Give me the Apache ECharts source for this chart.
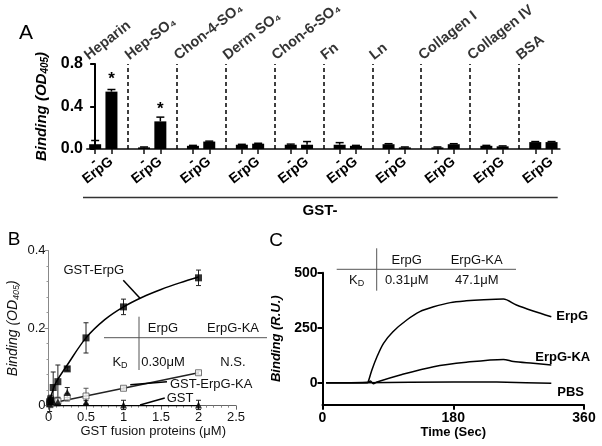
<!DOCTYPE html>
<html><head><meta charset="utf-8">
<script src="https://cdn.jsdelivr.net/npm/echarts@6/dist/echarts.min.js"></script>
<style>html,body{margin:0;padding:0;background:#fff}#c{width:602px;height:446px}</style>
</head><body><div id="c"></div>
<script>
// ---------- Panel A data ----------
const groups = ['Heparin','Hep-SO₄','Chon-4-SO₄','Derm SO₄','Chon-6-SO₄','Fn','Ln','Collagen I','Collagen IV','BSA'];
const barLabels = ['-','ErpG'];
const negValues  = [0.045,0.015,0.03,0.04,0.04,0.04,0.045,0.015,0.03,0.065];
const negErr     = [0.035,0.004,0.004,0.004,0.006,0.02,0.005,0.004,0.004,0.005];
const erpgValues = [0.54,0.26,0.07,0.05,0.04,0.03,0.015,0.045,0.025,0.065];
const erpgErr    = [0.02,0.04,0.004,0.004,0.03,0.004,0.004,0.005,0.004,0.005];
const erpgStars  = ['*','*','','','','','','','',''];

// ---------- Panel B data ----------
const bConc      = [0.015,0.03,0.0625,0.125,0.25,0.5,1,2];
const bErpG      = [0.01,0.015,0.047,0.062,0.095,0.175,0.255,0.33];
const bErpGErr   = [0.01,0.012,0.04,0.043,0.005,0.039,0.02,0.02];
const bKA        = [0.005,0.005,0.01,0.012,0.022,0.025,0.045,0.085];
const bKAErr     = [0.005,0.01,0.01,0.01,0.01,0.02,0.004,0.004];
const bGST       = [0.005,0.01,0.01,0.01,0.034,0.008,0.002,0.002];
const bGSTErr    = [0.02,0.01,0.005,0.01,0.013,0.005,0.012,0.012];
const bFitErpGX  = [0,0.05,0.1,0.25,0.5,0.75,1,1.25,1.5,1.75,2];
const bFitErpGY  = [0,0.035,0.06,0.105,0.175,0.222,0.255,0.28,0.3,0.317,0.332];
const bFitKAX    = [0,2];
const bFitKAY    = [0.005,0.085];
const bFitGSTX   = [0,2];
const bFitGSTY   = [0,0];

// ---------- Panel C data ----------
const cErpGT = [5,30,62,63,68,75,84,97,116,134,153,176,198,222,249,267,290,315];
const cErpGV = [0,0,2,5,58,118,179,232,285,323,345,364,372,377,380,353,326,300];
const cKAT   = [5,62,66,70,75,107,153,198,249,263,290,315];
const cKAV   = [0,0,8,-5,3,35,73,93,106,96,88,80];
const cPBST  = [5,60,120,180,240,280,315];
const cPBSV  = [0,0,2,3,3,0,-3];
const cYTicks = [0,250,500];

const FONT = 'Liberation Sans, Arial, sans-serif';

// Build panel A categories: bars and divider slots
const cats = [], catText = {}, barData = [], errA = [], starOf = {}, dividers = [], groupAnchors = [];
groups.forEach((g, gi) => {
  groupAnchors.push([gi === 0 ? -0.5 : cats.length - 1, 0.8, g]);
  [[negValues, negErr, ''], [erpgValues, erpgErr, erpgStars[gi]]].forEach((arr, bi) => {
    const id = 'g' + gi + 'b' + bi;
    catText[id] = barLabels[bi];
    errA.push([cats.length, arr[0][gi], arr[1][gi]]);
    starOf[cats.length] = arr[2];
    barData.push(arr[0][gi]);
    cats.push(id);
  });
  if (gi < groups.length - 1) {
    const id = 'd' + gi;
    catText[id] = '';
    dividers.push(id);
    barData.push('-');
    cats.push(id);
  }
});

function errRender(capW, color, lw, upOnly) {
  return function (params, api) {
    const x = api.value(0), y = api.value(1), e = api.value(2);
    const top = api.coord([x, y + e]);
    const bot = api.coord([x, upOnly ? y : y - e]);
    const hw = capW / 2, st = { stroke: color, lineWidth: lw };
    const ch = [
      { type: 'line', shape: { x1: top[0], y1: top[1], x2: bot[0], y2: bot[1] }, style: st },
      { type: 'line', shape: { x1: top[0] - hw, y1: top[1], x2: top[0] + hw, y2: top[1] }, style: st }
    ];
    if (!upOnly) ch.push({ type: 'line', shape: { x1: bot[0] - hw, y1: bot[1], x2: bot[0] + hw, y2: bot[1] }, style: st });
    return { type: 'group', children: ch };
  };
}
const zip = (a, b) => a.map((v, i) => [v, b[i]]);
const zip3 = (a, b, c) => a.map((v, i) => [v, b[i], c[i]]);

const chart = echarts.init(document.getElementById('c'), null, { renderer: 'canvas' });

const option = {
  backgroundColor: '#fff',
  animation: false,
  textStyle: { fontFamily: FONT },
  grid: [
    { left: 87, top: 64, width: 472.7, height: 85, outerBoundsMode: 'none' },
    { left: 48.5, top: 250.7, width: 187.5, height: 155, outerBoundsMode: 'none' },
    { left: 322.5, top: 272.7, width: 261.5, height: 132, outerBoundsMode: 'none' }
  ],
  xAxis: [
    {
      gridIndex: 0, type: 'category', data: cats, boundaryGap: true,
      axisLine: { lineStyle: { color: '#444', width: 2 } },
      axisTick: { show: true, alignWithLabel: true, length: 5, lineStyle: { color: '#111', width: 1.5 },
        interval: (i) => catText[cats[i]] !== '' },
      axisLabel: { interval: 0, rotate: 38, margin: 11, color: '#000', fontSize: 14, fontWeight: 'bold', fontFamily: FONT,
        formatter: (v) => catText[v] },
      splitLine: { show: false }
    },
    {
      gridIndex: 1, type: 'value', min: 0, max: 2.5, interval: 0.5,
      axisLine: { show: true, onZero: false, lineStyle: { color: '#666', width: 1 } },
      axisTick: { show: true, length: 4, lineStyle: { color: '#666' } },
      minorTick: { show: true, splitNumber: 5, length: 2, lineStyle: { color: '#888' } },
      axisLabel: { color: '#111', fontSize: 13, margin: 5, fontFamily: FONT },
      splitLine: { show: false },
      name: 'GST fusion proteins (μM)', nameLocation: 'middle', nameGap: 18,
      nameTextStyle: { color: '#111', fontSize: 13, fontFamily: FONT, padding: [0, 0, 0, 22] }
    },
    {
      gridIndex: 2, type: 'value', min: 0, max: 360, interval: 180,
      axisLine: { show: true, onZero: false, lineStyle: { color: '#000', width: 2 } },
      axisTick: { show: true, length: 5, lineStyle: { color: '#000', width: 2 } },
      axisLabel: { color: '#000', fontSize: 14, fontWeight: 'bold', margin: 6, fontFamily: FONT },
      splitLine: { show: false },
      name: 'Time (Sec)', nameLocation: 'middle', nameGap: 19,
      nameTextStyle: { color: '#000', fontSize: 13, fontWeight: 'bold', fontFamily: FONT }
    },
    {
      gridIndex: 0, type: 'value', min: -0.5, max: cats.length - 0.5, show: false
    }
  ],
  yAxis: [
    {
      gridIndex: 0, type: 'value', min: 0, max: 0.8, interval: 0.4,
      axisLine: { show: true, lineStyle: { color: '#000', width: 2 } },
      axisTick: { show: true, length: 5, lineStyle: { color: '#000', width: 2 } },
      axisLabel: { color: '#000', fontSize: 16, fontWeight: 'bold', margin: 4, fontFamily: FONT,
        formatter: (v) => v.toFixed(1) },
      splitLine: { show: false },
      name: 'Binding (OD{s|405})', nameLocation: 'middle', nameGap: 29, nameRotate: 90,
      nameTextStyle: { color: '#000', fontSize: 15, fontWeight: 'bold', fontStyle: 'italic', fontFamily: FONT,
        rich: { s: { fontSize: 10, fontWeight: 'bold', fontStyle: 'italic', verticalAlign: 'bottom', fontFamily: FONT, padding: [6, 0, 0, 0] } } }
    },
    {
      gridIndex: 1, type: 'value', min: 0, max: 0.4, interval: 0.2,
      axisLine: { show: true, onZero: false, lineStyle: { color: '#888', width: 1 } },
      axisTick: { show: true, length: 4, lineStyle: { color: '#888' } },
      minorTick: { show: true, splitNumber: 5, length: 2, lineStyle: { color: '#999' } },
      axisLabel: { color: '#111', fontSize: 13, margin: 3, fontFamily: FONT },
      splitLine: { show: false },
      name: 'Binding (OD{s|405})', nameLocation: 'middle', nameGap: 28, nameRotate: 90,
      nameTextStyle: { color: '#111', fontSize: 14, fontStyle: 'italic', fontFamily: FONT,
        rich: { s: { fontSize: 9, fontStyle: 'italic', verticalAlign: 'bottom', fontFamily: FONT, padding: [6, 0, 0, 0] } } }
    },
    {
      gridIndex: 2, type: 'value', min: -100, max: 500,
      axisLine: { show: true, onZero: false, lineStyle: { color: '#000', width: 2 } },
      axisTick: { show: true, length: 5, customValues: cYTicks, lineStyle: { color: '#000', width: 2 } },
      axisLabel: { color: '#000', fontSize: 14, fontWeight: 'bold', margin: 5, customValues: cYTicks, fontFamily: FONT },
      splitLine: { show: false },
      name: 'Binding (R.U.)', nameLocation: 'middle', nameGap: 40, nameRotate: 90,
      nameTextStyle: { color: '#000', fontSize: 13, fontWeight: 'bold', fontStyle: 'italic', fontFamily: FONT }
    }
  ],
  series: [
    // ---- Panel A ----
    {
      type: 'bar', xAxisIndex: 0, yAxisIndex: 0, data: barData, barWidth: 12,
      itemStyle: { color: '#000' },
      label: { show: true, position: 'top', distance: 4, color: '#000', fontSize: 17, fontWeight: 'bold', fontFamily: FONT,
        formatter: (p) => starOf[p.dataIndex] || '' },
      markLine: {
        silent: true, symbol: ['none', 'none'], label: { show: false },
        lineStyle: { color: '#000', type: [4, 3], width: 1.5 },
        emphasis: { disabled: true },
        data: dividers.map((d) => ({ xAxis: d }))
      }
    },
    {
      type: 'custom', xAxisIndex: 0, yAxisIndex: 0, data: errA, clip: false,
      renderItem: errRender(8, '#000', 1.5, true), z: 3
    },
    {
      type: 'scatter', xAxisIndex: 3, yAxisIndex: 0, data: groupAnchors, symbolSize: 0, silent: true,
      label: { show: true, position: [4, -1], align: 'left', verticalAlign: 'bottom', rotate: 38,
        color: '#000', fontSize: 14.5, fontWeight: 'bold', fontFamily: FONT, formatter: (p) => p.value[2] }
    },
    // ---- Panel B ----
    {
      name: 'GST-ErpG fit', type: 'line', xAxisIndex: 1, yAxisIndex: 1, data: zip(bFitErpGX, bFitErpGY),
      smooth: 0.35, showSymbol: false, lineStyle: { color: '#000', width: 1.5 },
      markLine: {
        silent: true, symbol: ['none', 'none'], label: { show: false }, lineStyle: { color: '#000', width: 1.5, type: 'solid' },
        data: [
          [{ coord: [0.997, 0.324] }, { coord: [1.22, 0.277] }],
          [{ coord: [1.09, 0.054] }, { coord: [1.58, 0.062] }],
          [{ coord: [1.22, 0.002] }, { coord: [1.55, 0.02] }]
        ]
      },
      markPoint: {
        silent: true, symbol: 'circle', symbolSize: 0,
        label: { show: true, position: 'right', distance: 0, color: '#111', fontSize: 13, fontFamily: FONT, formatter: (p) => p.name },
        data: [
          { name: 'GST-ErpG', coord: [0.2, 0.348] },
          { name: 'GST-ErpG-KA', coord: [1.62, 0.054] },
          { name: 'GST', coord: [1.575, 0.02] }
        ]
      }
    },
    {
      type: 'line', xAxisIndex: 1, yAxisIndex: 1, data: zip(bFitKAX, bFitKAY),
      showSymbol: false, lineStyle: { color: '#222', width: 1.5 }
    },
    {
      type: 'line', xAxisIndex: 1, yAxisIndex: 1, data: zip(bFitGSTX, bFitGSTY),
      showSymbol: false, lineStyle: { color: '#000', width: 1.5 }
    },
    { type: 'custom', xAxisIndex: 1, yAxisIndex: 1, data: zip3(bConc, bErpG, bErpGErr), clip: false, renderItem: errRender(5, '#222', 1, false) },
    { type: 'custom', xAxisIndex: 1, yAxisIndex: 1, data: zip3(bConc, bKA, bKAErr), clip: false, renderItem: errRender(5, '#555', 1, false) },
    { type: 'custom', xAxisIndex: 1, yAxisIndex: 1, data: zip3(bConc, bGST, bGSTErr), clip: false, renderItem: errRender(5, '#222', 1, false) },
    {
      type: 'scatter', xAxisIndex: 1, yAxisIndex: 1, data: zip(bConc, bKA), symbol: 'rect', symbolSize: 6,
      itemStyle: { color: '#fff', borderColor: '#555', borderWidth: 1 }, z: 4
    },
    {
      type: 'scatter', xAxisIndex: 1, yAxisIndex: 1, data: zip(bConc, bGST), symbol: 'triangle', symbolSize: 7,
      itemStyle: { color: '#000' }, z: 4
    },
    {
      type: 'scatter', xAxisIndex: 1, yAxisIndex: 1, data: zip(bConc, bErpG), symbol: 'rect', symbolSize: 7,
      itemStyle: { color: '#000' }, z: 5
    },
    // ---- Panel C ----
    {
      name: 'PBS', type: 'line', xAxisIndex: 2, yAxisIndex: 2, data: zip(cPBST, cPBSV),
      showSymbol: false, lineStyle: { color: '#000', width: 1.5 },
      endLabel: { show: true, formatter: 'PBS', distance: 0, offset: [6, 9], color: '#000', fontSize: 13, fontWeight: 'bold', fontFamily: FONT }
    },
    {
      name: 'ErpG-KA', type: 'line', xAxisIndex: 2, yAxisIndex: 2, data: zip(cKAT, cKAV), smooth: 0.3,
      showSymbol: false, lineStyle: { color: '#000', width: 1.5 },
      endLabel: { show: true, formatter: 'ErpG-KA', distance: 0, offset: [-16, -8], color: '#000', fontSize: 13, fontWeight: 'bold', fontFamily: FONT }
    },
    {
      name: 'ErpG', type: 'line', xAxisIndex: 2, yAxisIndex: 2, data: zip(cErpGT, cErpGV), smooth: 0.3,
      showSymbol: false, lineStyle: { color: '#000', width: 1.5 },
      endLabel: { show: true, formatter: 'ErpG', distance: 5, offset: [0, 0], color: '#000', fontSize: 13, fontWeight: 'bold', fontFamily: FONT }
    }
  ]
};
chart.setOption(option);

// ---------- Static annotations (panel letters, bracket, K_D tables) ----------
const px = (c) => chart.convertToPixel({ xAxisIndex: 0 }, c);
const slotW = px(cats[1]) - px(cats[0]);
const gridLeftA = px(cats[0]) - slotW / 2;
const gridRightA = px(cats[cats.length - 1]) + slotW / 2;
const graphics = [];
graphics.push(
  { type: 'line', shape: { x1: gridLeftA - 4, y1: 197.5, x2: gridRightA - 2, y2: 197.5 }, style: { stroke: '#333', lineWidth: 1.5 } },
  { type: 'text', x: 320, y: 211, style: { text: 'GST-', align: 'center', verticalAlign: 'middle', fill: '#000', font: 'bold 15px ' + FONT } },
  { type: 'text', x: 26, y: 33, style: { text: 'A', align: 'center', verticalAlign: 'middle', fill: '#000', font: '21px ' + FONT } },
  { type: 'text', x: 14, y: 240, style: { text: 'B', align: 'center', verticalAlign: 'middle', fill: '#000', font: '19px ' + FONT } },
  { type: 'text', x: 276, y: 241, style: { text: 'C', align: 'center', verticalAlign: 'middle', fill: '#000', font: '19px ' + FONT } }
);
function kdTable(hx1, hx2, hy, vx, vy1, vy2, cols) {
  const out = [
    { type: 'line', shape: { x1: hx1, y1: hy, x2: hx2, y2: hy }, style: { stroke: '#555', lineWidth: 1 } },
    { type: 'line', shape: { x1: vx, y1: vy1, x2: vx, y2: vy2 }, style: { stroke: '#555', lineWidth: 1 } }
  ];
  cols.forEach((c) => out.push({ type: 'text', x: c[0], y: c[1], style: { text: c[2], align: 'center', verticalAlign: 'middle', fill: '#111', font: '13px ' + FONT,
    rich: { k: { fontSize: 13, fontFamily: FONT, fill: '#111' }, d: { fontSize: 9, fontFamily: FONT, fill: '#111', verticalAlign: 'bottom', padding: [8, 0, 0, 0] } } } }));
  return out;
}
graphics.push(...kdTable(104, 267, 337.7, 139, 316.7, 370, [
  [163, 328, 'ErpG'], [233, 328, 'ErpG-KA'], [120, 362, '{k|K}{d|D}'], [163, 362, '0.30μM'], [233, 362, 'N.S.']
]));
graphics.push(...kdTable(336.7, 516, 269.3, 376.7, 248.3, 290.7, [
  [406.7, 260, 'ErpG'], [476.7, 260, 'ErpG-KA'], [356.7, 280, '{k|K}{d|D}'], [406.7, 280, '0.31μM'], [476.7, 280, '47.1μM']
]));
chart.setOption({ graphic: graphics });
</script>
</body></html>
